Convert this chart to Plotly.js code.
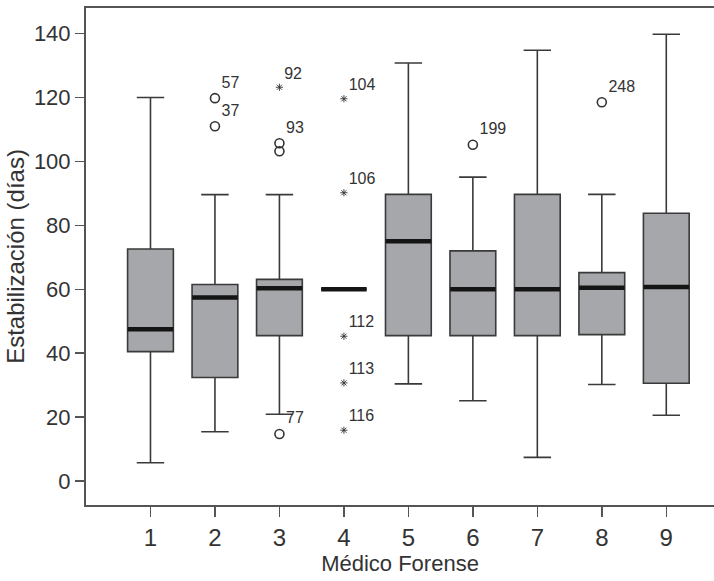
<!DOCTYPE html>
<html>
<head>
<meta charset="utf-8">
<script src="https://cdn.plot.ly/plotly-3.0.1.min.js"></script>
<style>body{margin:0;padding:0;background:#fff;}</style>
</head>
<body>
<div id="chart" style="width:714px;height:581px;"></div>
<script>
// Box statistics per forensic doctor
const categories = [1, 2, 3, 4, 5, 6, 7, 8, 9];
const lowerWhisker = [5.7, 15.4, 20.9, 60, 30.4, 25.1, 7.4, 30.2, 20.6];
const q1Values     = [40.5, 32.4, 45.5, 60, 45.5, 45.5, 45.5, 45.8, 30.6];
const medianValues = [47.5, 57.4, 60.3, 60, 75, 60, 60, 60.5, 60.7];
const q3Values     = [72.6, 61.5, 63.1, 60, 89.7, 72, 89.7, 65.2, 83.8];
const upperWhisker = [120, 89.6, 89.6, 60, 130.8, 95.1, 134.8, 89.7, 139.8];

// Outliers (circles) and extreme values (asterisks)
const circleX      = [2, 2, 3, 3, 3, 6, 8];
const circleY      = [119.8, 111, 105.7, 103.2, 14.7, 105.2, 118.5];
const circleLabels = ['57', '37', '93', '', '77', '199', '248'];

const starX      = [3, 4, 4, 4, 4, 4];
const starY      = [123.2, 119.6, 90.2, 45.3, 30.7, 15.9];
const starLabels = ['92', '104', '106', '112', '113', '116'];

const tickValsY = [0, 20, 40, 60, 80, 100, 120, 140];

const ink = '#333333';
const labelFont = {family: 'Liberation Sans, Arial, sans-serif', size: 16, color: ink};

const traces = [
  {
    type: 'box',
    x: categories,
    q1: q1Values,
    median: medianValues,
    q3: q3Values,
    lowerfence: lowerWhisker,
    upperfence: upperWhisker,
    width: 0.71,
    whiskerwidth: 0.6,
    boxpoints: false,
    fillcolor: '#a6a7aa',
    line: {color: '#3a3a3a', width: 1.6},
    hoverinfo: 'skip',
    showlegend: false
  },
  {
    type: 'scatter',
    mode: 'markers',
    x: categories,
    y: medianValues,
    marker: {symbol: 'line-ew', size: 32.5, line: {color: '#151515', width: 4.5}},
    hoverinfo: 'skip',
    showlegend: false
  },
  {
    type: 'scatter',
    mode: 'markers+text',
    x: circleX,
    y: circleY,
    text: circleLabels,
    textposition: 'top right',
    textfont: labelFont,
    marker: {symbol: 'circle-open', size: 9, color: ink, line: {color: ink, width: 1.6}},
    cliponaxis: false,
    showlegend: false
  },
  {
    type: 'scatter',
    mode: 'markers+text',
    x: starX,
    y: starY,
    text: starLabels,
    textposition: 'top right',
    textfont: labelFont,
    marker: {symbol: 'asterisk-open', size: 6, color: ink, line: {color: ink, width: 0.9}},
    cliponaxis: false,
    showlegend: false
  }
];

const layout = {
  width: 714,
  height: 581,
  margin: {l: 86, r: 0, t: 8, b: 76},
  paper_bgcolor: '#ffffff',
  plot_bgcolor: '#ffffff',
  font: {family: 'Liberation Sans, Arial, sans-serif', color: ink},
  xaxis: {
    range: [0, 9.74],
    tickvals: categories,
    ticktext: categories.map(String),
    ticks: 'outside',
    ticklen: 10,
    tickwidth: 1.5,
    tickcolor: '#555',
    showline: true,
    linecolor: '#555',
    linewidth: 2,
    mirror: true,
    showgrid: false,
    zeroline: false,
    tickfont: {family: 'Liberation Sans, sans-serif', size: 24, color: ink},
    title: {text: 'Médico Forense', font: {family: 'Liberation Sans, sans-serif', size: 22, color: ink}, standoff: 5}
  },
  yaxis: {
    range: [-7.5, 148],
    tickvals: tickValsY,
    ticks: 'outside',
    ticklen: 9,
    tickwidth: 1.5,
    tickcolor: '#555',
    showline: true,
    linecolor: '#555',
    linewidth: 2,
    showgrid: false,
    zeroline: false,
    tickfont: {family: 'Liberation Sans, sans-serif', size: 22, color: ink},
    title: {text: 'Estabilización (días)', font: {family: 'Liberation Sans, sans-serif', size: 24, color: ink}, standoff: 2}
  }
};

Plotly.newPlot('chart', traces, layout, {displayModeBar: false, staticPlot: true});
</script>
</body>
</html>
